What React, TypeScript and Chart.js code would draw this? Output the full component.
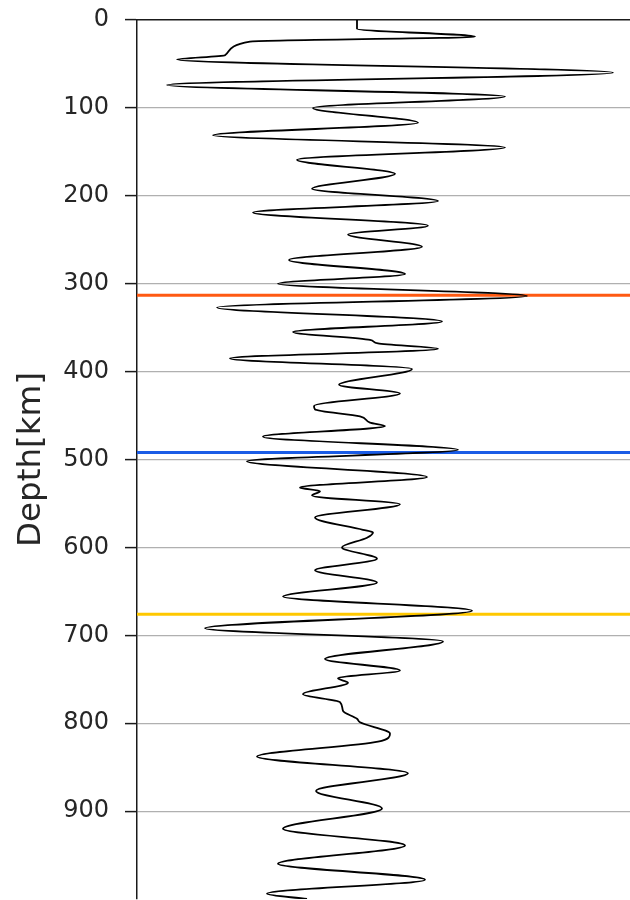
import React, { useEffect, useRef } from "react";
import { Chart, registerables } from "chart.js";

Chart.register(...registerables);

// Trace: depth (km) and amplitude
const depths = [
  0, 10, 19, 24.6, 40, 45, 60, 74, 87, 100, 117, 131, 145, 159, 175, 192, 206, 219, 234, 244,
  258, 273, 289, 300, 314, 327, 343, 355, 364, 368, 374, 385, 397, 415, 425, 439, 443, 451, 458, 462,
  474, 489, 502, 520, 532, 536, 541, 551, 566, 580, 583, 589, 600, 613, 626, 640, 656, 672, 692, 707,
  727, 740, 749, 754, 767, 776, 786, 795, 799, 812, 821, 838, 857, 877, 897, 920, 939, 960, 978, 994, 1000,
];
const amplitudes = [
  0, 0, 0.118, -0.107, -0.132, -0.18, 0.256, -0.19, 0.148, -0.044, 0.061, -0.144, 0.148, -0.06, 0.038, -0.045, 0.081, -0.104, 0.071, -0.009,
  0.065, -0.068, 0.048, -0.079, 0.17, -0.14, 0.085, -0.064, 0.013, 0.021, 0.081, -0.127, 0.055, -0.018, 0.043, -0.043, -0.042, 0.003, 0.013, 0.028,
  -0.094, 0.101, -0.11, 0.07, -0.057, -0.037, -0.045, 0.043, -0.042, 0.006, 0.016, 0.01, -0.015, 0.02, -0.042, 0.02, -0.074, 0.115, -0.152, 0.086,
  -0.032, 0.043, -0.019, -0.009, -0.054, -0.017, -0.014, 0.0, 0.003, 0.033, 0.021, -0.1, 0.051, -0.041, 0.025, -0.074, 0.048, -0.079, 0.068, -0.09, -0.05,
];

// Discontinuity depths (km)
const discontinuityNames = ["d310", "d410", "d660"];
const discontinuityDepths = [313, 492, 676];
const discontinuityColors = ["#ff5a12", "#1a5ce6", "#ffc800"];

const yTicks = [0, 100, 200, 300, 400, 500, 600, 700, 800, 900, 1000];
const xMin = -0.22;
const xMax = 0.273;

export default function App() {
  const canvasRef = useRef<HTMLCanvasElement | null>(null);

  useEffect(() => {
    if (!canvasRef.current) return;
    const trace = depths.map((d, i) => ({ x: amplitudes[i], y: d }));
    const lineSets = discontinuityDepths.map((d, i) => ({
      label: discontinuityNames[i],
      data: [
        { x: xMin, y: d },
        { x: xMax, y: d },
      ],
      borderColor: discontinuityColors[i],
      borderWidth: 3,
      pointRadius: 0,
      tension: 0,
      cubicInterpolationMode: "default" as const,
      order: 2,
    }));
    const chart = new Chart(canvasRef.current, {
      type: "line",
      data: {
        datasets: [
          {
            label: "trace",
            data: trace,
            borderColor: "#000000",
            borderWidth: 1.8,
            pointRadius: 0,
            cubicInterpolationMode: "monotone",
            order: 1,
          },
          ...lineSets,
        ],
      },
      options: {
        animation: false,
        responsive: false,
        indexAxis: "y",
        events: [],
        layout: { padding: { top: 20, left: 0, right: 0, bottom: 1 } },
        plugins: { legend: { display: false }, tooltip: { enabled: false } },
        scales: {
          x: {
            type: "linear",
            min: xMin,
            max: xMax,
            display: false,
          },
          x2: {
            type: "linear",
            axis: "x",
            position: "top",
            min: 0,
            max: 1,
            display: true,
            grid: { display: false, drawTicks: false },
            ticks: { display: false },
            border: { display: true, color: "#1a1a1a", width: 1.5 },
            afterFit: (s: any) => {
              s.height = 0;
            },
          },
          y: {
            type: "linear",
            reverse: true,
            min: 0,
            max: 1000,
            afterBuildTicks: (s: any) => {
              s.ticks = yTicks.map((v) => ({ value: v }));
            },
            afterFit: (s: any) => {
              s.width = 137;
              s.paddingTop = 0;
              s.paddingBottom = 0;
            },
            ticks: {
              font: { family: "DejaVu Sans", size: 24 },
              color: "#262626",
              padding: 16,
              callback: (v: any) => (v === 1000 ? null : String(v)),
            },
            grid: {
              color: (ctx: any) => (ctx.tick && ctx.tick.value === 0 ? "rgba(0,0,0,0)" : "#b0b0b0"),
              lineWidth: 1.2,
              tickLength: 12,
              tickColor: "#1a1a1a",
              tickWidth: 1.5,
            },
            border: { display: true, color: "#1a1a1a", width: 1.5 },
            title: {
              display: true,
              text: "Depth[km]",
              font: { family: "DejaVu Sans", size: 32.5 },
              color: "#262626",
              padding: { top: 12, bottom: 0 },
            },
          },
        },
      },
    } as any);
    return () => chart.destroy();
  }, []);

  return (
    <div style={{ position: "fixed", left: 0, top: 0, width: 630, height: 900, background: "#fff" }}>
      <canvas ref={canvasRef} width={630} height={900} style={{ display: "block" }} />
    </div>
  );
}
